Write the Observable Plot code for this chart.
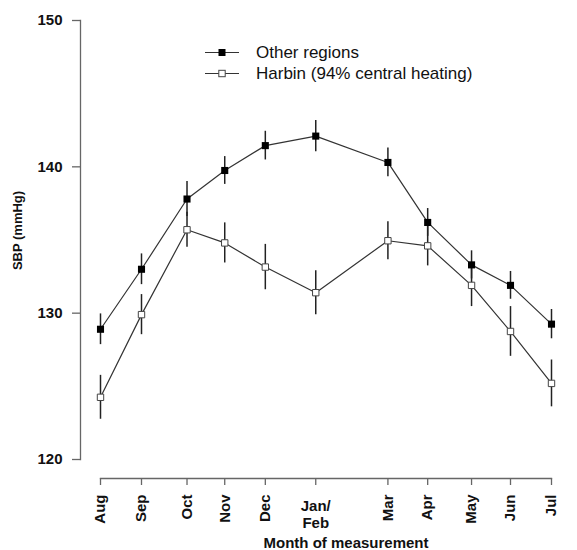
<!DOCTYPE html>
<html>
<head>
<meta charset="utf-8">
<script src="https://cdn.jsdelivr.net/npm/d3@7"></script>
<script src="https://cdn.jsdelivr.net/npm/@observablehq/plot@0.6"></script>
<style>
  body { margin: 0; background: #fff; }
  #wrap { position: relative; width: 577px; height: 550px; font-family: "Liberation Sans", Arial, sans-serif; }
  #wrap svg.plot { display: block; }
  .lg-row { position: absolute; left: 205px; height: 21px; line-height: 21px; font-size: 17px; color: #111; white-space: nowrap; }
  .lg-row svg { position: absolute; left: 0; top: 0; }
  .lg-row span { position: absolute; left: 51px; top: 0; }
</style>
</head>
<body>
<div id="wrap"></div>
<script>
// ---- data ----
const months = ["Aug", "Sep", "Oct", "Nov", "Dec", "Jan/Feb", "Mar", "Apr", "May", "Jun", "Jul"];
const monthPos = [0, 1, 2.11, 3.03, 4.02, 5.25, 7.01, 7.98, 9.05, 10, 11];
const otherMean = [128.9, 133.0, 137.8, 139.75, 141.45, 142.1, 140.3, 136.2, 133.3, 131.9, 129.25];
const otherErr  = [1.05, 1.05, 1.2, 0.95, 0.98, 1.07, 0.98, 0.95, 0.96, 0.95, 1.0];
const harbinMean = [124.25, 129.9, 135.7, 134.8, 133.15, 131.4, 134.95, 134.6, 131.9, 128.75, 125.2];
const harbinErr  = [1.5, 1.37, 1.2, 1.37, 1.55, 1.5, 1.3, 1.37, 1.45, 1.7, 1.6];
const seriesNames = ["Other regions", "Harbin (94% central heating)"];
const yTicks = [120, 130, 140, 150];
const xTitle = "Month of measurement";
const yTitle = "SBP (mmHg)";

// ---- tables ----
const toRows = (mean, err) => months.map((m, i) => ({
  month: m, pos: monthPos[i], mean: mean[i], lo: mean[i] - err[i], hi: mean[i] + err[i]
}));
const other = toRows(otherMean, otherErr);
const harbin = toRows(harbinMean, harbinErr);
const rotatedLabel = d => { const m = months[monthPos.indexOf(d)]; return m.includes("/") ? "" : m; };
const flatLabels = months.map((m, i) => ({ pos: monthPos[i], label: m.replace("/", "/\n") }))
  .filter(d => d.label.includes("\n"));

const font = "Liberation Sans, Arial, sans-serif";
const axisGray = "#666";

const plot = Plot.plot({
  width: 577,
  height: 550,
  marginLeft: 80,
  marginRight: 26,
  marginTop: 20,
  marginBottom: 72,
  style: { fontFamily: font, background: "white", color: "#000", overflow: "visible" },
  x: { domain: [0, 11], insetLeft: 20, axis: null },
  y: { domain: [120, 150], insetBottom: 19, axis: null },
  marks: [
    Plot.frame({ anchor: "left", insetBottom: 19, stroke: axisGray, strokeWidth: 1.3 }),
    Plot.frame({ anchor: "bottom", insetLeft: 20, stroke: axisGray, strokeWidth: 1.3 }),
    Plot.axisY(yTicks, {
      anchor: "left", tickSize: 8, tickPadding: 10, stroke: axisGray, strokeWidth: 1.3,
      fill: "#111", fontSize: 15, fontWeight: "bold", label: null
    }),
    Plot.axisX(monthPos, {
      anchor: "bottom", tickSize: 7, tickPadding: 9, tickRotate: -90, tickFormat: rotatedLabel,
      stroke: axisGray, strokeWidth: 1.3, fill: "#111", fontSize: 15, fontWeight: "bold", label: null
    }),
    Plot.text(flatLabels, {
      x: "pos", text: "label", frameAnchor: "bottom", lineAnchor: "top", dy: 21,
      fontSize: 15, fontWeight: "bold", lineHeight: 1.1, fill: "#111"
    }),
    Plot.text([xTitle], {
      frameAnchor: "bottom", lineAnchor: "bottom", dx: 30, dy: 69,
      fontSize: 15, fontWeight: "bold", fill: "#111"
    }),
    Plot.text([yTitle], {
      frameAnchor: "left", textAnchor: "middle", lineAnchor: "middle", rotate: -90, dx: -63, dy: -19,
      fontSize: 13, fontWeight: "bold", fill: "#111"
    }),
    // error bars
    Plot.ruleX(other, { x: "pos", y1: "lo", y2: "hi", stroke: "#222", strokeWidth: 1.5 }),
    Plot.ruleX(harbin, { x: "pos", y1: "lo", y2: "hi", stroke: "#222", strokeWidth: 1.5 }),
    // lines
    Plot.line(other, { x: "pos", y: "mean", stroke: "#333", strokeWidth: 1.2 }),
    Plot.line(harbin, { x: "pos", y: "mean", stroke: "#333", strokeWidth: 1.2 }),
    // points
    Plot.dot(other, { x: "pos", y: "mean", symbol: "square", r: 4, fill: "#000", stroke: "none" }),
    Plot.dot(harbin, { x: "pos", y: "mean", symbol: "square", r: 3.6, fill: "#fff", stroke: "#444", strokeWidth: 1 })
  ]
});
plot.classList.add("plot");
const wrap = document.getElementById("wrap");
wrap.appendChild(plot);

// ---- legend (HTML overlay) ----
const legendStyles = [
  { fill: "#000", stroke: "none" },
  { fill: "#fff", stroke: "#444" }
];
seriesNames.forEach((name, i) => {
  const row = document.createElement("div");
  row.className = "lg-row";
  row.style.top = (42 + i * 21) + "px";
  const s = legendStyles[i];
  row.innerHTML =
    `<svg width="36" height="21"><line x1="0" x2="34" y1="10.5" y2="10.5" stroke="#333" stroke-width="1.2"/>` +
    `<rect x="${s.stroke === "none" ? 13.5 : 13.8}" y="${s.stroke === "none" ? 7 : 7.3}" width="${s.stroke === "none" ? 7 : 6.4}" height="${s.stroke === "none" ? 7 : 6.4}" fill="${s.fill}" stroke="${s.stroke}" stroke-width="1"/></svg>` +
    `<span>${name}</span>`;
  wrap.appendChild(row);
});
</script>
</body>
</html>
